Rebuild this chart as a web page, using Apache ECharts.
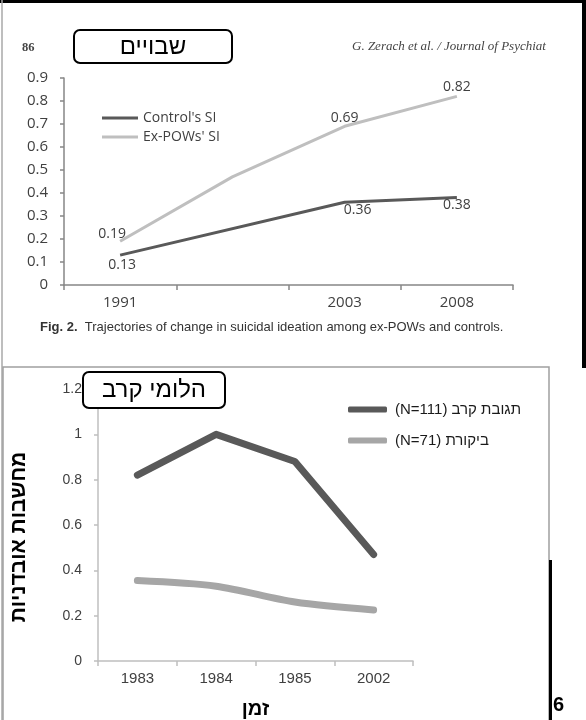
<!DOCTYPE html>
<html>
<head>
<meta charset="utf-8">
<script src="https://cdn.jsdelivr.net/npm/echarts@6/dist/echarts.min.js"></script>
<style>
  html, body { margin: 0; padding: 0; background: #fff; }
  #chart { width: 586px; height: 720px; }
</style>
</head>
<body>
<div id="chart"></div>
<script>
// Upper panel: suicidal ideation, ex-POWs vs. controls
const upperYears = ['1991', '', '2003', '2008'];
const controlSI = [0.13, null, 0.36, 0.38];
const exPowSI = [0.19, 0.47, 0.69, 0.82];

// Lower panel: suicidal thoughts, combat stress reaction vs. control
const lowerYears = ['1983', '1984', '1985', '2002'];
const combatStress = [0.82, 1.0, 0.88, 0.47];
const controlGroup = [0.355, 0.33, 0.26, 0.225];

const upperNames = ["Control's SI", "Ex-POWs' SI"];
const lowerNames = ['(N=111) תגובת קרב', '(N=71) ביקורת'];

const DARK = '#595959';
const LIGHT = '#bfbfbf';
const LATIN = '"Open Sans", "Liberation Sans", sans-serif';
const HEB = '"Liberation Sans", "DejaVu Sans", sans-serif';

// value labels for the upper panel
const controlLabelCfg = [
  { position: 'bottom', distance: 3, offset: [2, 0] },
  null,
  { position: 'bottom', distance: 1, offset: [13, 0] },
  { position: 'bottom', distance: 0, offset: [0, 0] }
];
const exPowLabelCfg = [
  { position: 'top', distance: 0, offset: [-8, 0] },
  null,
  { position: 'top', distance: 1, offset: [0, 0] },
  { position: 'top', distance: 2, offset: [0, 0] }
];

function withLabels(values, cfg) {
  return values.map((v, i) => {
    const c = cfg[i];
    if (v === null) return null;
    if (!c) return { value: v, label: { show: false } };
    return {
      value: v,
      label: {
        show: true, position: c.position, distance: c.distance, offset: c.offset,
        formatter: (p) => Number(p.value).toFixed(2),
        color: '#404040', fontSize: 14, fontFamily: LATIN
      }
    };
  });
}

const chart = echarts.init(document.getElementById('chart'), null, { renderer: 'canvas' });

const option = {
  backgroundColor: '#ffffff',
  animation: false,
  grid: [
    { left: 64, right: 73, top: 78, bottom: 435 },
    { left: 98, right: 173, top: 389, bottom: 47 }
  ],
  xAxis: [
    {
      gridIndex: 0, type: 'category', data: upperYears, boundaryGap: true,
      axisLine: { lineStyle: { color: '#868686', width: 1.5 } },
      axisTick: { show: true, length: 5, lineStyle: { color: '#868686', width: 1.5 } },
      axisLabel: { margin: 10, color: '#404040', fontSize: 15, fontFamily: LATIN, interval: 0 }
    },
    {
      gridIndex: 1, type: 'category', data: lowerYears, boundaryGap: true,
      axisLine: { lineStyle: { color: '#bfbfbf', width: 1.5 } },
      axisTick: { show: true, length: 5, lineStyle: { color: '#bfbfbf', width: 1.5 } },
      axisLabel: { margin: 10, color: '#404040', fontSize: 15, fontFamily: HEB, interval: 0 },
      name: 'זמן', nameLocation: 'middle', nameGap: 38,
      nameTextStyle: { color: '#000', fontSize: 20, fontWeight: 'bold', fontFamily: HEB }
    }
  ],
  yAxis: [
    {
      gridIndex: 0, type: 'value', min: 0, max: 0.9, interval: 0.1,
      splitLine: { show: false },
      axisLine: { show: true, lineStyle: { color: '#868686', width: 1.5 } },
      axisTick: { show: true, length: 4, lineStyle: { color: '#868686', width: 1.5 } },
      axisLabel: { margin: 16, color: '#404040', fontSize: 15, fontFamily: LATIN }
    },
    {
      gridIndex: 1, type: 'value', min: 0, max: 1.2, interval: 0.2,
      splitLine: { show: false },
      axisLine: { show: true, lineStyle: { color: '#bfbfbf', width: 1.5 } },
      axisTick: { show: true, length: 4, lineStyle: { color: '#bfbfbf', width: 1.5 } },
      axisLabel: { margin: 16, color: '#404040', fontSize: 14, fontFamily: HEB },
      name: 'מחשבות אובדניות', nameLocation: 'middle', nameGap: 68, nameRotate: 90,
      nameTextStyle: { color: '#000', fontSize: 21, fontWeight: 'bold', fontFamily: HEB, padding: [0, 24, 0, 0] }
    }
  ],
  legend: [
    {
      orient: 'vertical', left: 97, top: 106, itemWidth: 36, itemHeight: 3, itemGap: 5,
      icon: 'rect', data: upperNames,
      textStyle: { color: '#404040', fontSize: 14, fontFamily: LATIN }
    },
    {
      orient: 'vertical', left: 343, top: 397, itemWidth: 39, itemHeight: 6, itemGap: 16,
      icon: 'roundRect', data: lowerNames,
      textStyle: { color: '#1a1a1a', fontSize: 15, fontFamily: HEB, padding: [0, 0, 0, 3] }
    }
  ],
  series: [
    {
      name: upperNames[0], type: 'line', xAxisIndex: 0, yAxisIndex: 0,
      data: withLabels(controlSI, controlLabelCfg), connectNulls: true,
      symbol: 'circle', symbolSize: 0, showSymbol: true, showAllSymbol: true,
      color: DARK, lineStyle: { color: DARK, width: 3 }
    },
    {
      name: upperNames[1], type: 'line', xAxisIndex: 0, yAxisIndex: 0,
      data: withLabels(exPowSI, exPowLabelCfg),
      symbol: 'circle', symbolSize: 0, showSymbol: true, showAllSymbol: true,
      color: LIGHT, lineStyle: { color: LIGHT, width: 3 }
    },
    {
      name: lowerNames[0], type: 'line', xAxisIndex: 1, yAxisIndex: 1,
      data: combatStress, symbol: 'none', color: DARK,
      lineStyle: { color: DARK, width: 7, cap: 'round', join: 'round' }
    },
    {
      name: lowerNames[1], type: 'line', xAxisIndex: 1, yAxisIndex: 1,
      data: controlGroup, symbol: 'none', smooth: 0.3, color: '#a6a6a6',
      lineStyle: { color: '#a6a6a6', width: 7, cap: 'round', join: 'round' }
    }
  ],
  graphic: [
    // page frame
    { type: 'rect', shape: { x: 0, y: 0, width: 586, height: 3 }, style: { fill: '#000' }, z: 50 },
    { type: 'rect', shape: { x: 582, y: 0, width: 4, height: 368 }, style: { fill: '#000' }, z: 50 },
    { type: 'line', shape: { x1: 2, y1: 0, x2: 2, y2: 720 }, style: { stroke: '#a8a8a8', lineWidth: 1.5 }, z: 50 },
    // frame of the lower panel
    { type: 'rect', shape: { x: 3, y: 367, width: 546, height: 360 }, style: { fill: 'none', stroke: '#a0a0a0', lineWidth: 1.5 }, z: 50 },
    { type: 'rect', shape: { x: 549, y: 560, width: 3, height: 160 }, style: { fill: '#000' }, z: 50 },
    { type: 'text', x: 553, y: 705, style: { text: '6', fill: '#000', font: 'bold 20px "Liberation Sans", sans-serif', textVerticalAlign: 'middle' }, z: 50 },
    // journal header
    { type: 'text', x: 22, y: 48, style: { text: '86', fill: '#444', font: 'bold 12.5px "Liberation Serif", serif', textVerticalAlign: 'middle' }, z: 50 },
    { type: 'text', x: 352, y: 47, style: { text: 'G. Zerach et al. / Journal of Psychiat', fill: '#444', font: 'italic 13px "Liberation Serif", serif', textVerticalAlign: 'middle' }, z: 50 },
    // caption
    {
      type: 'text', x: 40, y: 327, z: 50,
      style: {
        text: '{b|Fig. 2.}  Trajectories of change in suicidal ideation among ex-POWs and controls.',
        fill: '#333', font: '13px "Liberation Sans", sans-serif', textVerticalAlign: 'middle',
        rich: { b: { fontWeight: 'bold', fontSize: 13, fontFamily: '"Liberation Sans", sans-serif', fill: '#333' } }
      }
    },
    // tag boxes
    { type: 'rect', shape: { x: 74, y: 30, width: 158, height: 33, r: 6 }, style: { fill: '#fff', stroke: '#000', lineWidth: 2 }, z: 60 },
    { type: 'text', x: 153, y: 47, style: { text: 'שבויים', fill: '#000', font: '24px ' + HEB, textAlign: 'center', textVerticalAlign: 'middle' }, z: 61 },
    { type: 'rect', shape: { x: 83, y: 372, width: 142, height: 36, r: 6 }, style: { fill: '#fff', stroke: '#000', lineWidth: 2 }, z: 60 },
    { type: 'text', x: 154, y: 390, style: { text: 'הלומי קרב', fill: '#000', font: '24px ' + HEB, textAlign: 'center', textVerticalAlign: 'middle' }, z: 61 }
  ]
};

chart.setOption(option);
</script>
</body>
</html>
